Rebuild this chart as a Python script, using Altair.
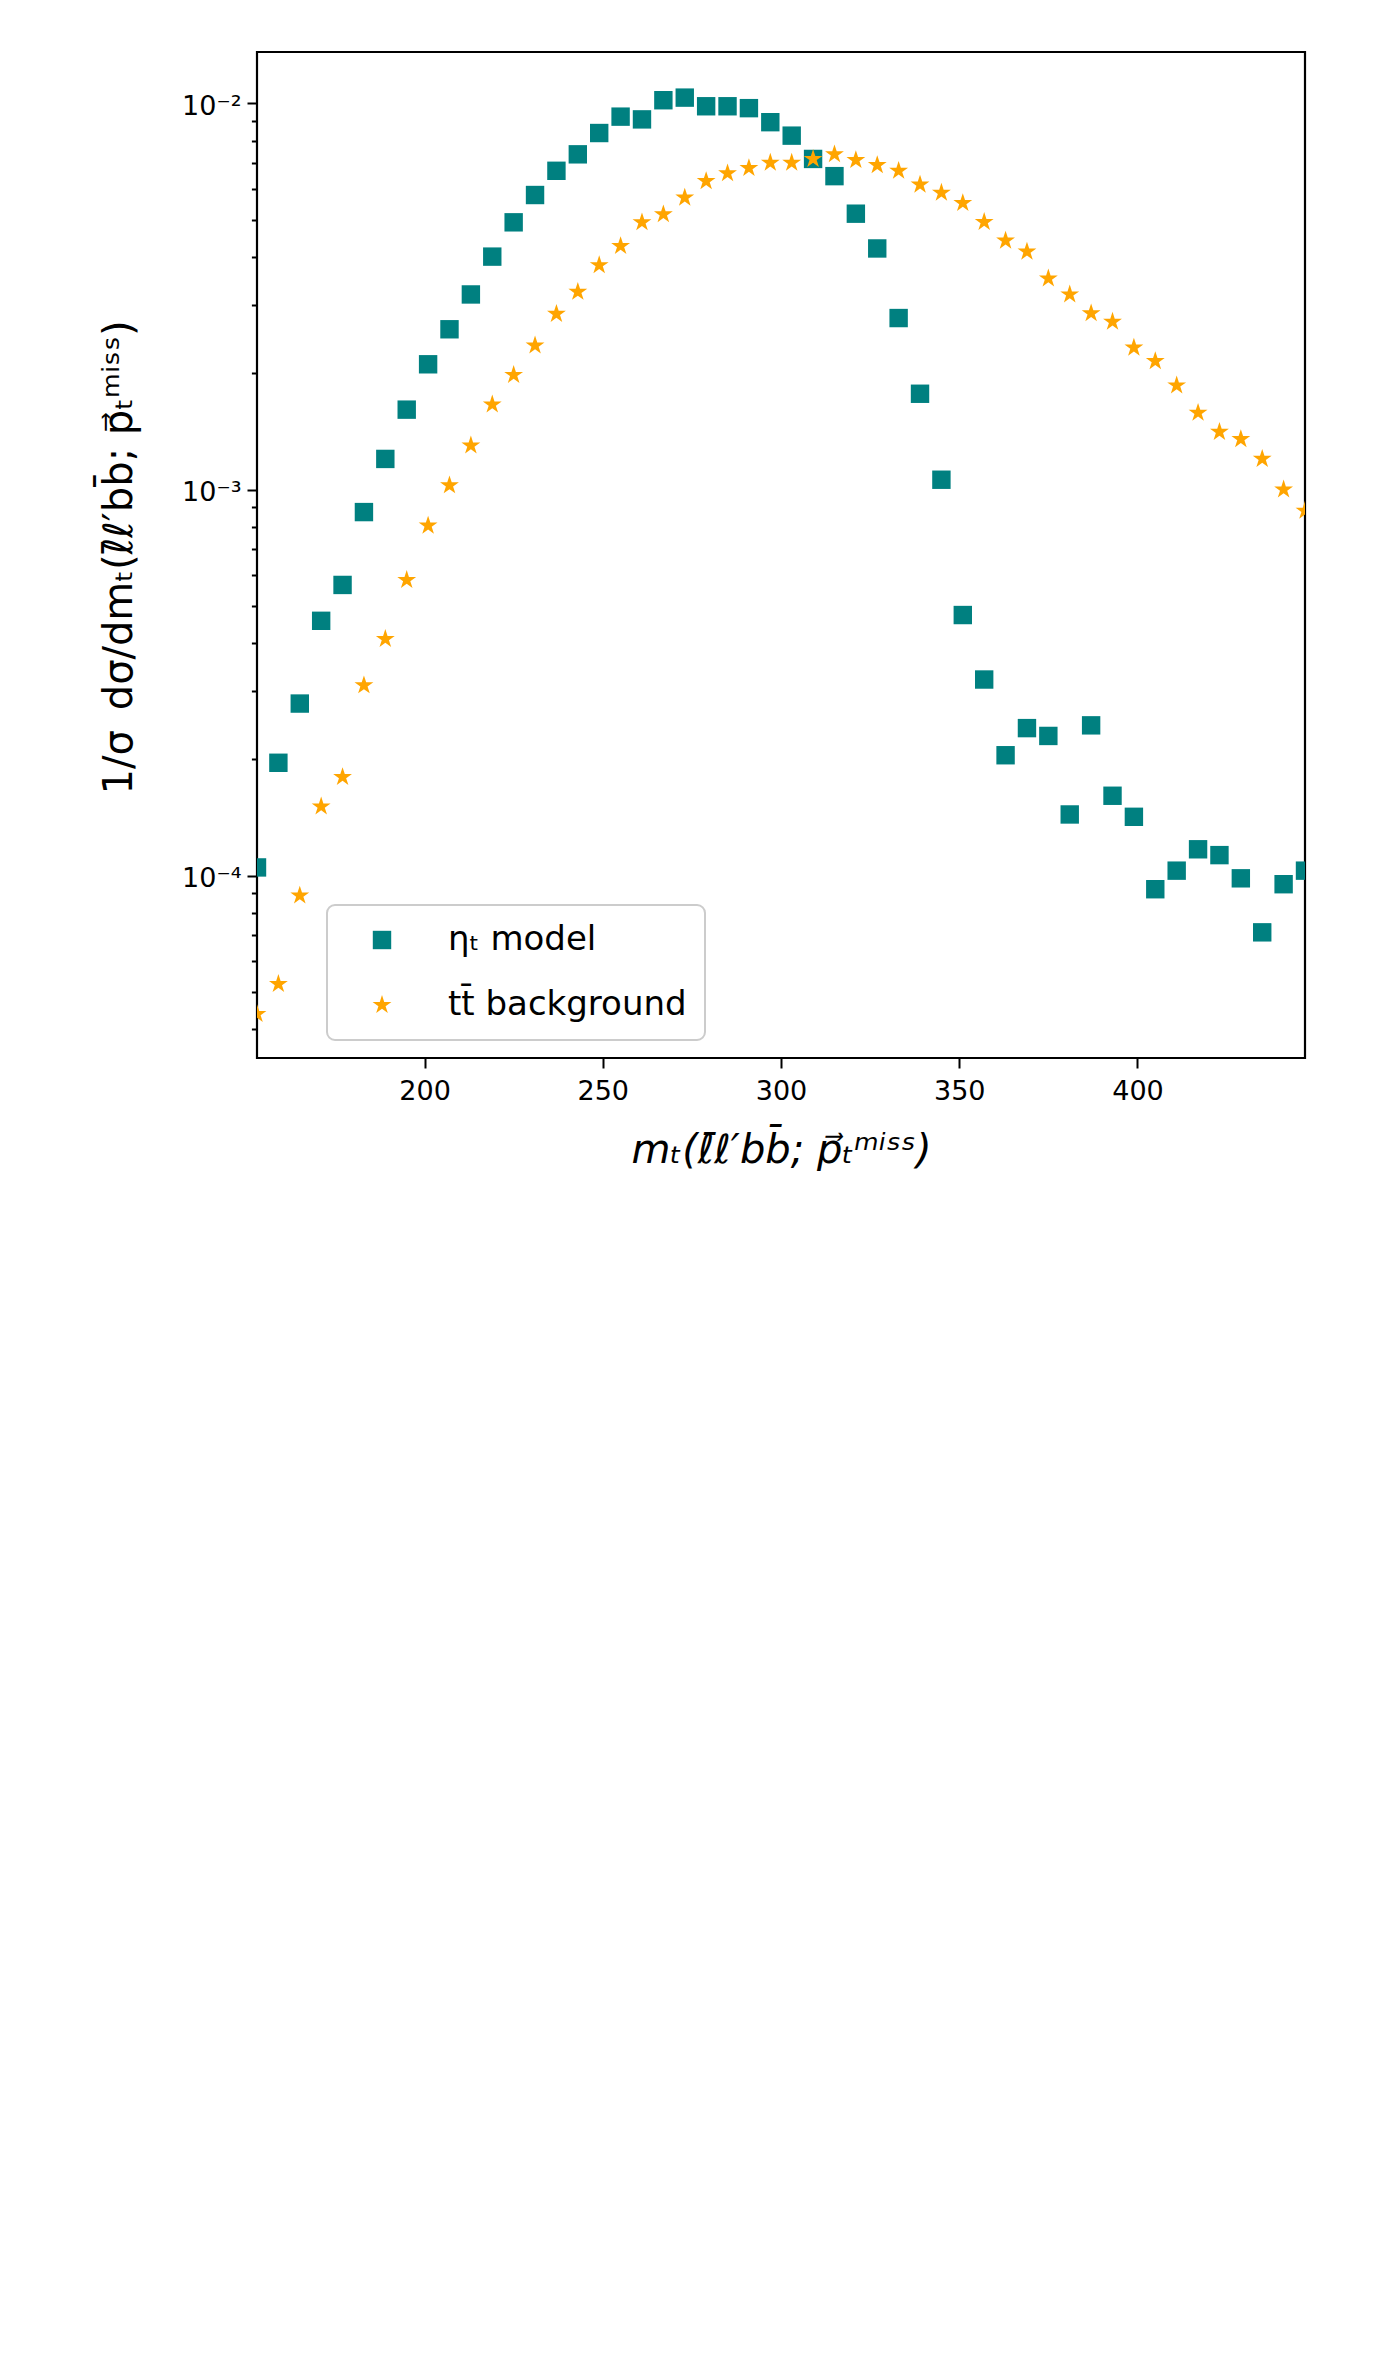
import altair as alt
import pandas as pd

# ---- data ----
mt = [153, 159, 165, 171, 177, 183, 189, 195, 201, 207,
      213, 219, 225, 231, 237, 243, 249, 255, 261, 267,
      273, 279, 285, 291, 297, 303, 309, 315, 321, 327,
      333, 339, 345, 351, 357, 363, 369, 375, 381, 387,
      393, 399, 405, 411, 417, 423, 429, 435, 441, 447]

eta_t = [1.05e-4, 1.96e-4, 2.79e-4, 4.57e-4, 5.66e-4, 8.74e-4, 1.20e-3, 1.61e-3, 2.11e-3, 2.60e-3,
         3.20e-3, 4.01e-3, 4.92e-3, 5.79e-3, 6.69e-3, 7.38e-3, 8.38e-3, 9.24e-3, 9.09e-3, 1.019e-2,
         1.035e-2, 9.83e-3, 9.83e-3, 9.72e-3, 8.94e-3, 8.25e-3, 7.18e-3, 6.48e-3, 5.18e-3, 4.21e-3,
         2.78e-3, 1.77e-3, 1.06e-3, 4.73e-4, 3.22e-4, 2.05e-4, 2.41e-4, 2.30e-4, 1.44e-4, 2.45e-4,
         1.61e-4, 1.42e-4, 9.22e-5, 1.03e-4, 1.17e-4, 1.13e-4, 9.84e-5, 7.13e-5, 9.50e-5, 1.03e-4]

ttbar = [4.38e-5, 5.24e-5, 8.88e-5, 1.51e-4, 1.80e-4, 3.11e-4, 4.10e-4, 5.83e-4, 8.06e-4, 1.025e-3,
         1.30e-3, 1.66e-3, 1.98e-3, 2.36e-3, 2.85e-3, 3.25e-3, 3.81e-3, 4.27e-3, 4.92e-3, 5.16e-3,
         5.70e-3, 6.29e-3, 6.59e-3, 6.80e-3, 7.02e-3, 7.02e-3, 7.18e-3, 7.38e-3, 7.13e-3, 6.92e-3,
         6.69e-3, 6.16e-3, 5.87e-3, 5.52e-3, 4.93e-3, 4.41e-3, 4.13e-3, 3.52e-3, 3.20e-3, 2.86e-3,
         2.72e-3, 2.33e-3, 2.15e-3, 1.86e-3, 1.58e-3, 1.41e-3, 1.35e-3, 1.20e-3, 1.00e-3, 8.81e-4]

series_labels = ["ηₜ model", "tt̄ background"]
series_colors = ["#008080", "#FFA500"]

x_ticks = [200, 250, 300, 350, 400]
y_ticks = [4e-5, 5e-5, 6e-5, 7e-5, 8e-5, 9e-5,
           1e-4, 2e-4, 3e-4, 4e-4, 5e-4, 6e-4, 7e-4, 8e-4, 9e-4,
           1e-3, 2e-3, 3e-3, 4e-3, 5e-3, 6e-3, 7e-3, 8e-3, 9e-3,
           1e-2]

x_domain = [153, 447]
y_domain = [3.37e-5, 1.3586e-2]

# matplotlib-like five-pointed star in the [-1, 1] box
STAR = ("M0,-1L-0.2245,-0.309L-0.9511,-0.309L-0.3633,0.118L-0.5878,0.809"
        "L0,0.382L0.5878,0.809L0.3633,0.118L0.9511,-0.309L0.2245,-0.309Z")

rows = []
for x, v in zip(mt, eta_t):
    rows.append({"mt": x, "val": v, "series": series_labels[0]})
for x, v in zip(mt, ttbar):
    rows.append({"mt": x, "val": v, "series": series_labels[1]})
df = pd.DataFrame(rows)

label_expr = ("abs(datum.value - 0.01) < 1e-6 ? '10⁻²' : "
              "abs(datum.value - 0.001) < 1e-7 ? '10⁻³' : "
              "abs(datum.value - 0.0001) < 1e-8 ? '10⁻⁴' : ''")

major_test = "abs(log(datum.value)/LN10 - round(log(datum.value)/LN10)) < 0.01"

legend = alt.Legend(
    title=None, orient="none", legendX=70, legendY=853, direction="vertical",
    padding=18, rowPadding=31, symbolOffset=20, labelOffset=49, labelLimit=600,
    labelFontSize=34, labelFont="DejaVu Sans", labelColor="black",
    strokeColor="#cccccc", fillColor="white", cornerRadius=8,
    symbolStrokeWidth=0, symbolOpacity=1,
)

chart = alt.Chart(df).mark_point(filled=True, opacity=1, clip=True, strokeWidth=0).encode(
    x=alt.X("mt:Q",
            scale=alt.Scale(domain=x_domain, nice=False, zero=False),
            axis=alt.Axis(values=x_ticks, title="mₜ(ℓ̄ℓ′bb̄; p⃗ₜᵐⁱˢˢ)",
                          tickSize=10, labelPadding=10, labelFlush=False,
                          titleX=524, titleY=104, titleBaseline="alphabetic",
                          titleAlign="center", titleFontStyle="italic")),
    y=alt.Y("val:Q",
            scale=alt.Scale(type="log", domain=y_domain, nice=False),
            axis=alt.Axis(values=y_ticks, labelExpr=label_expr, labelOverlap=False,
                          labelFlush=False,
                          tickSize={"condition": {"test": major_test, "value": 10}, "value": 5.6},
                          labelPadding=6, labelOffset=3,
                          title="1/σ\u2002dσ/dmₜ(ℓ̄ℓ′bb̄; p⃗ₜᵐⁱˢˢ)",
                          titleAngle=270, titleX=-126, titleY=505,
                          titleBaseline="alphabetic", titleAlign="center")),
    color=alt.Color("series:N", scale=alt.Scale(domain=series_labels, range=series_colors), legend=legend),
    shape=alt.Shape("series:N", scale=alt.Scale(domain=series_labels, range=["square", STAR]), legend=legend),
    size=alt.Size("series:N", scale=alt.Scale(domain=series_labels, range=[339, 392]), legend=legend),
).properties(
    width=1048, height=1006,
    autosize=alt.AutoSizeParams(type="none"),
    padding={"left": 249, "top": 44, "right": 60, "bottom": 160},
    background="white",
).configure_axis(
    domain=False, grid=False, tickColor="black", tickWidth=2,
    labelColor="black", labelFont="DejaVu Sans", labelFontSize=27,
    titleFont="DejaVu Sans", titleFontSize=40, titleColor="black", titleFontWeight="normal",
).configure_view(
    stroke="black", strokeWidth=2.2,
).configure_legend(
    strokeWidth=2,
)

chart.save("out.html", embed_options={"renderer": "svg", "actions": False})
